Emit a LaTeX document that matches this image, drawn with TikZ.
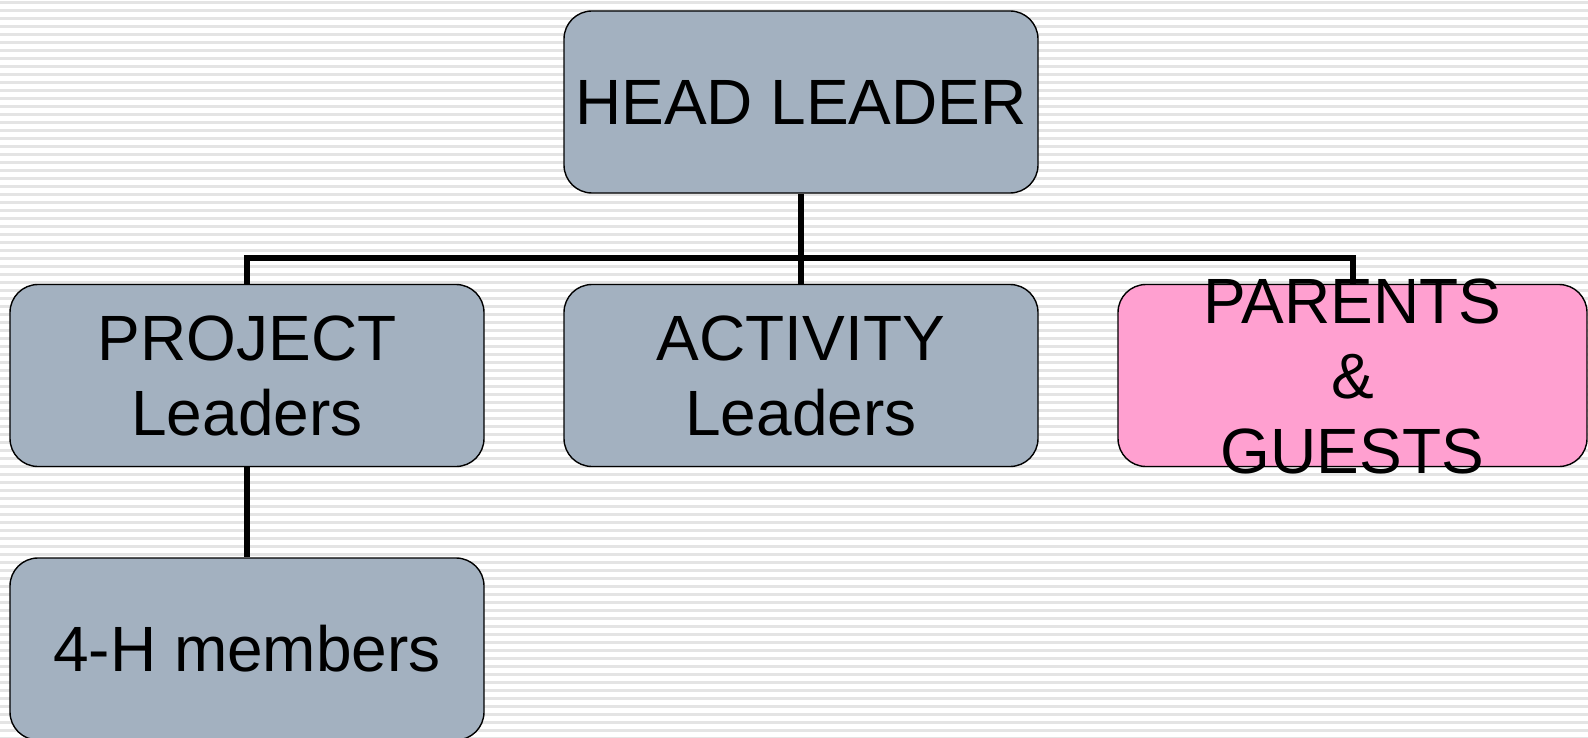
\documentclass[tikz,border=0pt]{standalone}
\usepackage{fontspec}
\setmainfont{Liberation Sans}
\usetikzlibrary{positioning}

\definecolor{leadgrey}{RGB}{163,177,192}
\definecolor{guestpink}{RGB}{255,160,208}
\definecolor{stripegrey}{RGB}{228,228,228}

\pgfdeclarelayer{stripes}
\pgfdeclarelayer{links}
\pgfsetlayers{stripes,links,main}

\tikzset{
  leader/.style={draw, line width=1.4pt, rounded corners=28pt, fill=leadgrey,
    minimum width=474pt, minimum height=182pt, inner sep=0pt, align=center,
    font=\fontsize{64}{75}\selectfont},
  guest/.style={leader, fill=guestpink, minimum width=469pt},
  link/.style={line width=6pt}
}

\begin{document}
\begin{tikzpicture}[x=1pt,y=-1pt]
	\useasboundingbox (0,0) rectangle (1588,738);
	
	% striped page
	\begin{pgfonlayer}{stripes}
		\fill[white] (0,0) rectangle (1588,738);
		\foreach \k in {0,...,92}
			\draw[stripegrey, line width=2.5pt] (0,{2.5+8*\k}) -- (1588,{2.5+8*\k});
	\end{pgfonlayer}
	
	
	\node[leader] (head) at (801,102) {HEAD LEADER};
	
		\node[leader] (project) at (247,375.5) {PROJECT\\Leaders};
		
		\node[leader] (activity) at (801,375.5) {ACTIVITY\\Leaders};
		
		\node[guest] (parents) at (1352.5,375.5)
			{\raisebox{-29pt}{\smash{\begin{tabular}{@{}c@{}}PARENTS\\\&\\GUESTS\end{tabular}}}};
		
			\node[leader] (members) at (247,649) {4-H members};
	
	
	% connectors
	\begin{pgfonlayer}{links}
		\coordinate (bus) at (801,258.5);
		\draw[link] (head.south) -- (bus);
		\draw[link] (project.north) |- (bus) -| (parents.north);
		\draw[link] (activity.north) -- (bus);
		\draw[link] (project.south) -- (members.north);
	\end{pgfonlayer}
	
\end{tikzpicture}
\end{document}
